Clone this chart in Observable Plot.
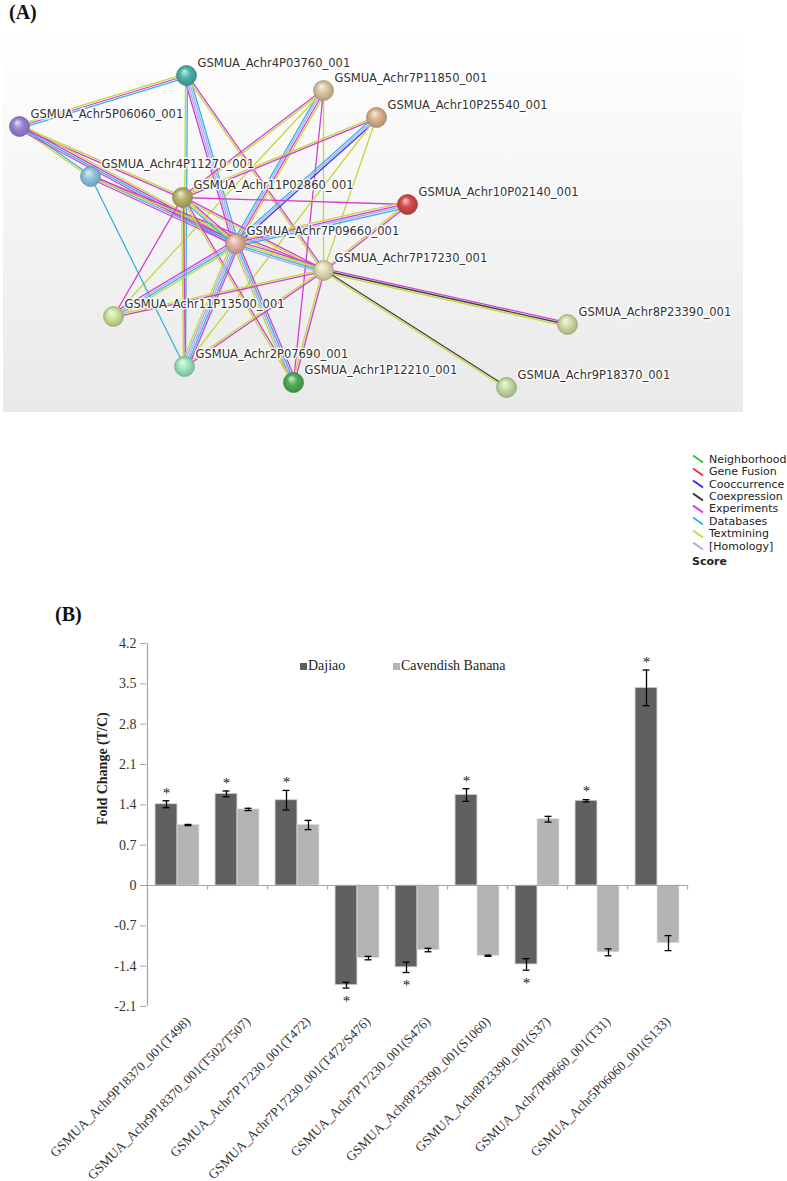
<!DOCTYPE html>
<html><head><meta charset="utf-8">
<script src="https://cdn.jsdelivr.net/npm/d3@7"></script>
<script src="https://cdn.jsdelivr.net/npm/@observablehq/plot@0.6"></script>
<style>
body{margin:0;background:#fff;width:787px;height:1181px;position:relative;overflow:hidden;}
.abs{position:absolute;}
.panel{font-family:"Liberation Serif","Times New Roman",serif;font-weight:bold;font-size:20px;line-height:20px;color:#111;}
#bg{left:3px;top:28px;width:740px;height:384px;background:linear-gradient(#ffffff,#e9e9e9);}
#legA{left:692px;top:453px;font-family:"DejaVu Sans",Verdana,sans-serif;font-size:11px;color:#222;}
#legA .it{display:flex;align-items:center;height:12.45px;white-space:nowrap;}
#legA svg{width:17px;height:10px;flex:none;}
#legA .score{font-weight:bold;margin-top:2.5px;padding-left:0;}
.legB{font-family:"Liberation Serif","Times New Roman",serif;font-size:14px;line-height:14px;color:#222;white-space:nowrap;}
.legB .sq{display:inline-block;width:7px;height:7px;margin-right:1px;vertical-align:0px;}
</style>
</head><body>
<div id="bg" class="abs"></div>
<div id="netA" class="abs" style="left:0;top:0"></div>
<div class="abs panel" style="left:9px;top:2px">(A)</div>
<div id="legA" class="abs"></div>
<div class="abs panel" style="left:55px;top:604px">(B)</div>
<div id="chartB" class="abs" style="left:0;top:590px"></div>
<div class="abs legB" style="left:300px;top:659px"><span class="sq" style="background:#606060"></span>Dajiao</div>
<div class="abs legB" style="left:393px;top:659px"><span class="sq" style="background:#b3b3b3"></span>Cavendish Banana</div>
<script>
// ---------- Panel A data ----------
const nodeIds   = ["4P03760","7P11850","10P25540","5P06060","4P11270","11P02860","10P02140","7P09660","7P17230","11P13500","2P07690","1P12210","8P23390","9P18370"];
const nodeX     = [186, 323, 376, 19, 90, 182, 407, 235, 323, 113, 184, 293, 567, 506];
const nodeY     = [75, 90, 117, 126, 176, 197, 204, 243, 270, 316, 366, 382, 324, 387];
const nodeColor = ["#4cb3aa","#dcc7a2","#ddb48f","#9a85d2","#8fc5e3","#bab46a","#d64a4a","#e4b3a3","#e2ddb0","#cde49c","#9fe8c2","#4fae52","#d5dca4","#c4dfa5"];

const edgeFrom  = ["5P06060","5P06060","5P06060","5P06060","4P03760","4P03760","4P03760","7P11850","7P11850","7P11850","7P11850","7P11850","10P25540","10P25540","10P25540","10P25540","4P11270","4P11270","4P11270","11P02860","11P02860","11P02860","11P02860","11P02860","11P02860","10P02140","10P02140","7P09660","7P09660","7P09660","7P09660","7P17230","7P17230","7P17230","7P17230","7P17230"];
const edgeTo    = ["4P03760","4P11270","11P02860","7P09660","7P09660","7P17230","2P07690","11P02860","7P09660","7P17230","1P12210","11P13500","11P02860","7P09660","7P17230","2P07690","7P09660","7P17230","2P07690","7P09660","10P02140","7P17230","11P13500","2P07690","1P12210","7P09660","7P17230","7P17230","11P13500","2P07690","1P12210","11P13500","2P07690","1P12210","8P23390","9P18370"];
const edgeTypes = ["ted","dt","te","tede","dhhe","et","dt","te","tehd","t","e","t","et","ohd","t","t","ede","et","d","etd","e","et","e","et","et","dhet","et","etdh","tdhe","edhht","edht","et","et","et","ect","ct"];

const typeColor = {t:"#c2d83a", e:"#d43cd4", d:"#35b6dc", h:"#a9a9ff", c:"#404040", o:"#3535ee"};

const legendNames  = ["Neighborhood","Gene Fusion","Cooccurrence","Coexpression","Experiments","Databases","Textmining","[Homology]"];
const legendColors = ["#2ec42e","#f03030","#2f2ff0","#333333","#d43cd4","#35b6dc","#c2d83a","#a9a9ff"];

// ---------- Panel B data ----------
const categories = ["GSMUA_Achr9P18370_001(T498)","GSMUA_Achr9P18370_001(T502/T507)","GSMUA_Achr7P17230_001(T472)","GSMUA_Achr7P17230_001(T472/S476)","GSMUA_Achr7P17230_001(S476)","GSMUA_Achr8P23390_001(S1060)","GSMUA_Achr8P23390_001(S37)","GSMUA_Achr7P09660_001(T31)","GSMUA_Achr5P06060_001(S133)"];
const dajiao     = [1.41, 1.59, 1.48, -1.73, -1.42, 1.57, -1.37, 1.47, 3.43];
const dajiaoErr  = [0.06, 0.05, 0.17, 0.05, 0.09, 0.11, 0.10, 0.02, 0.31];
const dajiaoSig  = [true, true, true, true, true, true, true, true, true];
const cavendish  = [1.05, 1.32, 1.05, -1.26, -1.12, -1.22, 1.15, -1.16, -1.00];
const cavErr     = [0.01, 0.02, 0.08, 0.03, 0.03, 0.01, 0.05, 0.06, 0.13];
const yTicks     = [-2.1, -1.4, -0.7, 0, 0.7, 1.4, 2.1, 2.8, 3.5, 4.2];

// ---------- Panel A: network ----------
const nodes = nodeIds.map((id, i) => ({id, name: "GSMUA_Achr" + id + "_001", x: nodeX[i], y: nodeY[i], fill: nodeColor[i], edge: d3.color(nodeColor[i]).darker(0.9).formatHex()}));
const byId = new Map(nodes.map(n => [n.id, n]));
const spacing = 1.9;
const edgeLines = [];
edgeFrom.forEach((f, i) => {
  const a = byId.get(f), b = byId.get(edgeTo[i]);
  const types = edgeTypes[i].split("");
  const dx = b.x - a.x, dy = b.y - a.y, len = Math.hypot(dx, dy);
  const px = -dy / len, py = dx / len;
  types.forEach((t, k) => {
    const off = (k - (types.length - 1) / 2) * spacing;
    edgeLines.push({x1: a.x + px * off, y1: a.y + py * off, x2: b.x + px * off, y2: b.y + py * off, color: typeColor[t]});
  });
});

const net = Plot.plot({
  width: 787, height: 440, margin: 0,
  x: {domain: [0, 787], range: [0, 787], axis: null},
  y: {domain: [0, 440], range: [0, 440], axis: null},
  color: {type: "identity"},
  style: {background: "transparent", overflow: "visible"},
  marks: [
    Plot.link(edgeLines, {x1: "x1", y1: "y1", x2: "x2", y2: "y2", stroke: "color", strokeWidth: 1.3}),
    Plot.dot(nodes, {x: "x", y: "y", r: 10, fill: "fill", stroke: "edge", strokeWidth: 0.7}),
    Plot.text(nodes, {x: "x", y: "y", text: "name", dx: 11, dy: -12, textAnchor: "start", fontSize: 11.5, fontFamily: "DejaVu Sans, Verdana, sans-serif", fill: "#333", stroke: "white", strokeWidth: 3, strokeOpacity: 0.85})
  ]
});
document.getElementById("netA").appendChild(net);
{
  const svg = d3.select(net);
  const defs = svg.insert("defs", ":first-child");
  svg.selectAll('g[aria-label="dot"] circle').each(function(_, i) {
    const c = nodes[i].fill;
    const g = defs.append("radialGradient").attr("id", "ng" + i).attr("cx", "50%").attr("cy", "50%").attr("r", "55%").attr("fx", "38%").attr("fy", "28%");
    g.append("stop").attr("offset", "0%").attr("stop-color", d3.interpolateRgb(c, "#ffffff")(0.75));
    g.append("stop").attr("offset", "45%").attr("stop-color", c);
    g.append("stop").attr("offset", "100%").attr("stop-color", d3.color(c).darker(0.7).formatHex());
    d3.select(this).attr("fill", "url(#ng" + i + ")");
  });
}

// legend A
{
  const leg = d3.select("#legA");
  legendNames.forEach((n, i) => {
    const it = leg.append("div").attr("class", "it");
    const s = it.append("svg").attr("viewBox", "0 0 17 10");
    s.append("line").attr("x1", 1).attr("y1", 1.5).attr("x2", 11).attr("y2", 8.5).attr("stroke", legendColors[i]).attr("stroke-width", 2);
    it.append("span").text(n);
  });
  leg.append("div").attr("class", "it score").text("Score");
}

// ---------- Panel B: bar chart ----------
const mL = 146, mR = 100;
const bw = (787 - mL - mR) / categories.length;
const barW = 22, capW = 7;
const dRows = categories.map((c, i) => ({cat: c, v: dajiao[i], e: dajiaoErr[i], sig: dajiaoSig[i]}));
const cRows = categories.map((c, i) => ({cat: c, v: cavendish[i], e: cavErr[i]}));
const serif = "Liberation Serif, Times New Roman, serif";
const axisGray = "#a6a6a6";

const chart = Plot.plot({
  width: 787, height: 591, marginLeft: mL, marginRight: mR, marginTop: 53, marginBottom: 175,
  x: {type: "band", domain: categories, padding: 0, axis: null},
  y: {domain: [-2.1, 4.2], axis: null},
  style: {background: "transparent", overflow: "visible"},
  marks: [
    Plot.barY(dRows, {x: "cat", y: "v", fill: "#606060", stroke: "#d0d0d0", strokeWidth: 0.8, insetLeft: bw / 2 - barW, insetRight: bw / 2}),
    Plot.barY(cRows, {x: "cat", y: "v", fill: "#b3b3b3", stroke: "#dadada", strokeWidth: 0.8, insetLeft: bw / 2, insetRight: bw / 2 - barW}),
    Plot.ruleY([0], {stroke: axisGray, strokeWidth: 1.2}),
    Plot.ruleX(categories, {x: d => d, y1: 0, y2: -0.075, dx: bw / 2, stroke: axisGray, strokeWidth: 1.2}),
    Plot.ruleX([categories[0]], {x: d => d, y1: -2.1, y2: 4.2, dx: -bw / 2, stroke: axisGray, strokeWidth: 1.2}),
    Plot.axisY({ticks: yTicks, tickSize: 6, tickPadding: 4, tickFormat: d => String(d), fontSize: 14, fontFamily: serif, stroke: axisGray, fill: "#333", label: null}),
    // error bars
    Plot.ruleX(dRows, {x: "cat", y1: d => d.v - d.e, y2: d => d.v + d.e, dx: -barW / 2, stroke: "#000", strokeWidth: 1.3}),
    Plot.tickY(dRows, {x: "cat", y: d => d.v + d.e, insetLeft: bw / 2 - barW / 2 - capW / 2, insetRight: bw / 2 + barW / 2 - capW / 2, stroke: "#000", strokeWidth: 1.3}),
    Plot.tickY(dRows, {x: "cat", y: d => d.v - d.e, insetLeft: bw / 2 - barW / 2 - capW / 2, insetRight: bw / 2 + barW / 2 - capW / 2, stroke: "#000", strokeWidth: 1.3}),
    Plot.ruleX(cRows, {x: "cat", y1: d => d.v - d.e, y2: d => d.v + d.e, dx: barW / 2, stroke: "#000", strokeWidth: 1.3}),
    Plot.tickY(cRows, {x: "cat", y: d => d.v + d.e, insetLeft: bw / 2 + barW / 2 - capW / 2, insetRight: bw / 2 - barW / 2 - capW / 2, stroke: "#000", strokeWidth: 1.3}),
    Plot.tickY(cRows, {x: "cat", y: d => d.v - d.e, insetLeft: bw / 2 + barW / 2 - capW / 2, insetRight: bw / 2 - barW / 2 - capW / 2, stroke: "#000", strokeWidth: 1.3}),
    // significance
    Plot.text(dRows.filter(d => d.sig && d.v > 0), {x: "cat", y: d => d.v + d.e, text: () => "*", dx: -barW / 2, dy: -8, fontSize: 15, fontFamily: serif, fill: "#222"}),
    Plot.text(dRows.filter(d => d.sig && d.v < 0), {x: "cat", y: d => d.v - d.e, text: () => "*", dx: -barW / 2, dy: 13, fontSize: 15, fontFamily: serif, fill: "#222"}),
    // x labels
    Plot.text(categories, {x: d => d, frameAnchor: "bottom", text: d => d, rotate: -45, textAnchor: "end", lineAnchor: "top", dx: 7, dy: 9, fontSize: 13.3, fontFamily: serif, fill: "#333"}),
    // y label
    Plot.text(["Fold Change (T/C)"], {frameAnchor: "left", text: d => d, rotate: -90, dx: -44, fontSize: 14, fontWeight: "bold", fontFamily: serif, fill: "#222"})
  ]
});
document.getElementById("chartB").appendChild(chart);
</script>
</body></html>
